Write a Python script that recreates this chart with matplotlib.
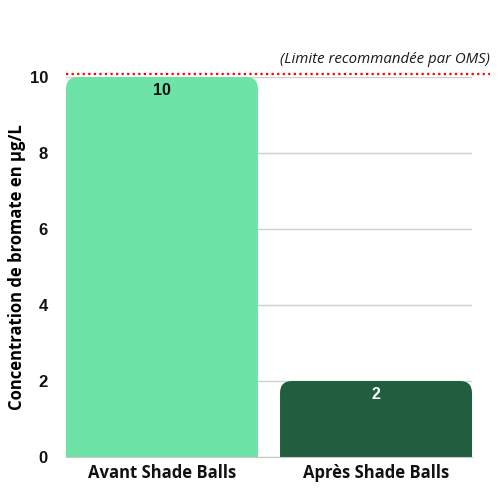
import numpy as np
import matplotlib.pyplot as plt
from matplotlib.patches import FancyBboxPatch
import matplotlib.transforms as mtransforms

plt.rcParams['font.family'] = ['Open Sans', 'DejaVu Sans']

categories = ['Avant Shade Balls', 'Après Shade Balls']
values = [10, 2]
colors = ['#6ee3a7', '#205e3f']
label_colors = ['#111111', '#ffffff']
limit = 10
limit_text = '(Limite recommandée par OMS)'
yticks = [0, 2, 4, 6, 8, 10]

fig = plt.figure(figsize=(5, 5), dpi=100)
ax = fig.add_axes([0.132, 0.086, 0.812, 0.76])

w = 0.897
x = np.arange(len(categories))
bars = ax.bar(x, values, width=w, color=colors, zorder=2)

# px per data unit, for rounding the top corners
rx = 12 / 214.0
ry = 12 / 38.0
for b, c in zip(bars, colors):
    x0, h, bw = b.get_x(), b.get_height(), b.get_width()
    b.remove()
    p = FancyBboxPatch((x0, -1), bw, h + 1,
                       boxstyle='round,pad=0,rounding_size=%f' % rx,
                       mutation_aspect=ry / rx, facecolor=c,
                       edgecolor='none', zorder=2)
    ax.add_patch(p)

for xi, v, lc in zip(x, values, label_colors):
    ax.annotate(str(v), (xi, v), xytext=(0, -9.5), textcoords='offset points',
                ha='center', va='center', fontsize=11.5, fontweight='bold',
                color=lc, zorder=3, family=['Liberation Sans'])

ax.set_xlim(-w / 2, len(categories) - 1 + w / 2)
ax.set_ylim(0, 10)
ax.set_yticks(yticks)
ax.set_yticklabels([str(t) for t in yticks], fontsize=12, fontweight='bold',
                   family=['Liberation Sans'])
ax.set_xticks(x)
ax.set_xticklabels(categories, fontsize=12, fontweight='bold')
ax.tick_params(axis='both', length=0, colors='#111111')
ax.tick_params(axis='y', pad=13)
ax.tick_params(axis='x', pad=5)

ax.grid(axis='y', color='#d0d0d0', lw=1, zorder=0)
for s in ['top', 'right', 'left']:
    ax.spines[s].set_visible(False)
ax.spines['bottom'].set_color('#c8c8c8')

ax.set_ylabel('Concentration de bromate en µg/L', fontsize=12,
              fontweight='bold', va='center')
ax.yaxis.set_label_coords(-0.12, 0.5)

trans = mtransforms.blended_transform_factory(ax.transAxes, ax.transData)
ax.plot([0, 1.044], [limit + 0.08, limit + 0.08], transform=trans, color='red',
        ls=(0, (1, 1.5)), lw=1.6, clip_on=False, zorder=4)
ax.text(1.044, limit + 0.45, limit_text, transform=trans, ha='right',
        va='center', fontsize=10.8, style='italic', color='#1a1a1a')

fig.savefig('out.png', dpi=100)
